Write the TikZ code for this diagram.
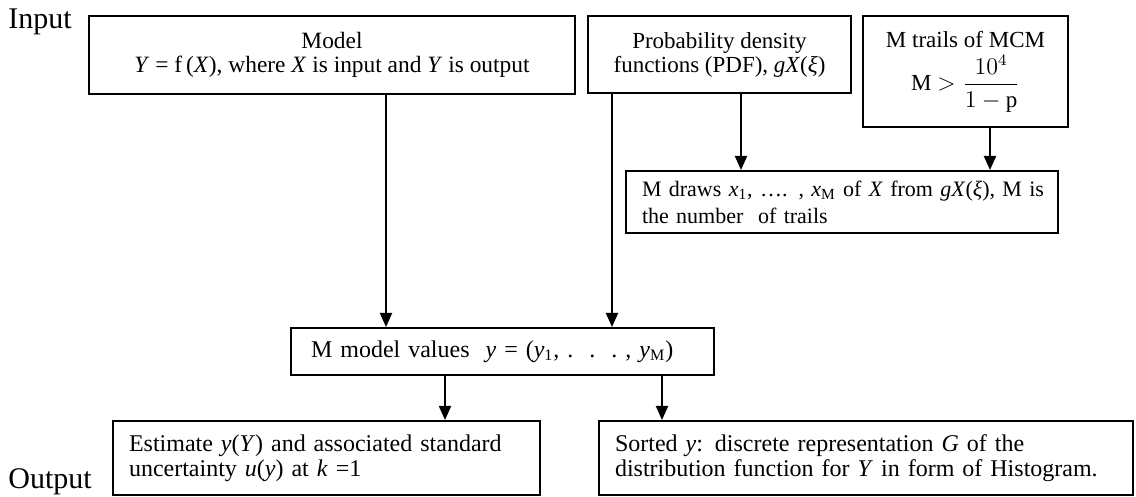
\documentclass[tikz,border=0pt]{standalone}
\usepackage{fontspec}
\setmainfont{Liberation Serif}
\usetikzlibrary{arrows.meta}
\begin{document}
\begin{tikzpicture}[x=0.5pt,y=-0.5pt,
  box/.style={draw, line width=1pt, inner sep=0pt, font=\fontsize{12}{12.5}\selectfont},
  cbox/.style={box, align=center},
  lbox/.style={box, align=left, inner xsep=8pt},
  arr/.style={line width=1pt, -{Triangle[length=7pt,width=6pt]}},
  side/.style={font=\fontsize{15}{18}\selectfont, inner sep=0pt, anchor=base west}]
\useasboundingbox (0,0) rectangle (1136,497);
\node[side] (in) at (8,29) {Input};
\node[side] (out) at (8,488) {Output};
\node[cbox, font=\fontsize{11.7}{12}\selectfont, minimum width=243pt, minimum height=39pt] (model) at (332,55)
  {Model\\ \textit{Y} = f\,(\textit{X}), where \textit{X} is input and \textit{Y} is output};
\node[cbox, font=\fontsize{11.5}{12}\selectfont, minimum width=131.5pt, minimum height=38.5pt] (pdf) at (719.5,54.5)
  {Probability density\\ functions\ (PDF), \textit{gX}(\textit{ξ})};
\node[cbox, font=\fontsize{11.5}{12}\selectfont, minimum width=102.5pt, minimum height=55.5pt] (mcm) at (965.5,71.5)
  {M trails of MCM\\[3pt] M $>\displaystyle\frac{10^4}{1-\mathrm{p}}$};
\node[lbox, font=\fontsize{11}{13.5}\selectfont, minimum width=216pt, minimum height=31pt, text width=200pt] (draws) at (842,202)
  {\mbox{M draws \textit{x}\textsubscript{1}, …. , \textit{x}\textsubscript{M} of \textit{X} from \textit{gX}(\textit{ξ}), M is}\\ the number\ \ of trails};
\node[lbox, minimum width=207.5pt, minimum height=23.5pt, text width=191.5pt, inner xsep=10pt] (values) at (502.5,351.5)
  {M model values\ \ \textit{y} = (\textit{y}\textsubscript{1},\ .\ \ .\ \ .\ , \textit{y}\textsubscript{M})};
\node[lbox, minimum width=213.5pt, minimum height=37pt, text width=197.5pt] (est) at (326.5,458)
  {Estimate \textit{y}(\textit{Y}) and associated standard\\ uncertainty \textit{u}(\textit{y}) at \textit{k} =1};
\node[lbox, minimum width=267pt, minimum height=37pt, text width=251pt] (sorted) at (866,458)
  {Sorted \textit{y}: discrete representation \textit{G} of the\\ distribution function for \textit{Y} in form of Histogram.};
\coordinate (c1) at (386,0);
\coordinate (c2) at (612,0);
\coordinate (c3) at (741,0);
\coordinate (c4) at (990,0);
\coordinate (c5) at (445,0);
\coordinate (c6) at (662,0);
\draw[arr] (model.south -| c1) -- (values.north -| c1);
\draw[arr] (pdf.south -| c2) -- (values.north -| c2);
\draw[arr] (pdf.south -| c3) -- (draws.north -| c3);
\draw[arr] (mcm.south -| c4) -- (draws.north -| c4);
\draw[arr] (values.south -| c5) -- (est.north -| c5);
\draw[arr] (values.south -| c6) -- (sorted.north -| c6);
\end{tikzpicture}
\end{document}
